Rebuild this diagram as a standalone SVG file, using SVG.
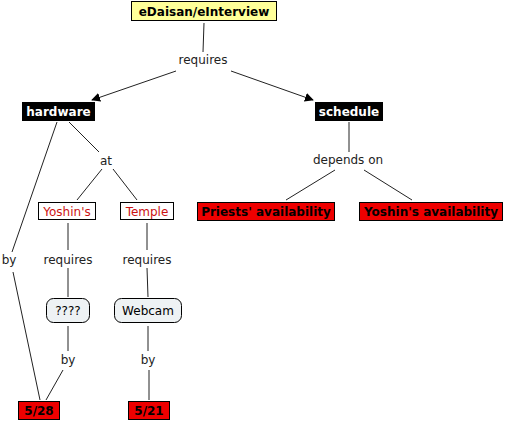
<svg xmlns="http://www.w3.org/2000/svg" width="505" height="422" viewBox="0 0 505 422">
<defs>
<style>
text{font-family:"DejaVu Sans","Verdana",sans-serif;font-size:12px;text-anchor:middle}
.b{font-weight:bold}
.lbl{fill:#222}
.w{fill:#fff}
.r{fill:#cc1111}
.con line{stroke:#222;stroke-width:1}
</style>
<marker id="ah" viewBox="0 0 10 10" refX="9" refY="5" markerWidth="9" markerHeight="9" markerUnits="userSpaceOnUse" orient="auto"><path d="M0,0L10,5L0,10z" fill="#000"/></marker>
</defs>
<rect width="505" height="422" fill="#fff"/>
<g class="con">
<line x1="204" y1="23" x2="203" y2="52"/>
<line x1="176" y1="71" x2="92" y2="100" marker-end="url(#ah)"/>
<line x1="231" y1="71" x2="313" y2="100" marker-end="url(#ah)"/>
<line x1="57" y1="122" x2="12" y2="252"/>
<line x1="13" y1="272" x2="40" y2="400"/>
<line x1="69" y1="122" x2="99" y2="152"/>
<line x1="102" y1="169" x2="77" y2="200"/>
<line x1="113" y1="169" x2="137" y2="200"/>
<line x1="68" y1="223" x2="68" y2="250"/>
<line x1="147" y1="223" x2="147" y2="250"/>
<line x1="68" y1="268" x2="68" y2="297"/>
<line x1="147" y1="268" x2="148" y2="297"/>
<line x1="68" y1="326" x2="68" y2="351"/>
<line x1="148" y1="326" x2="148" y2="351"/>
<line x1="63" y1="370" x2="46" y2="400"/>
<line x1="149" y1="370" x2="149" y2="400"/>
<line x1="349" y1="122" x2="349" y2="152"/>
<line x1="335" y1="170" x2="286" y2="200"/>
<line x1="364" y1="170" x2="412" y2="200"/>
</g>
<g id="eDaisan"><rect x="131.5" y="1.5" width="145" height="19" fill="#ffff99" stroke="#000"/><text class="b" x="204" y="15.5">eDaisan/eInterview</text></g>
<g id="requires1"><text class="lbl" x="203" y="64">requires</text></g>
<g id="hardware"><rect x="22" y="102" width="73" height="19" fill="#000"/><text class="b w" x="58.5" y="116">hardware</text></g>
<g id="schedule"><rect x="315" y="102" width="68" height="19" fill="#000"/><text class="b w" x="349" y="116">schedule</text></g>
<g id="at"><text class="lbl" x="106" y="165">at</text></g>
<g id="dependson"><text class="lbl" x="348" y="164">depends on</text></g>
<g id="yoshins"><rect x="38.5" y="202.5" width="57" height="17" fill="#fff" stroke="#000"/><text class="r" x="67" y="215.5">Yoshin's</text></g>
<g id="temple"><rect x="120.5" y="202.5" width="53" height="17" fill="#fff" stroke="#000"/><text class="r" x="147" y="215.5">Temple</text></g>
<g id="priests"><rect x="197.5" y="202.5" width="137" height="18" fill="#ee0000" stroke="#000"/><text class="b" x="266" y="216">Priests' availability</text></g>
<g id="yoshinsavail"><rect x="359.5" y="202.5" width="143" height="18" fill="#ee0000" stroke="#000"/><text class="b" x="431" y="216">Yoshin's availability</text></g>
<g id="by1"><text class="lbl" x="9" y="264">by</text></g>
<g id="requires2"><text class="lbl" x="68" y="264">requires</text></g>
<g id="requires3"><text class="lbl" x="147" y="264">requires</text></g>
<g id="q"><rect x="46.5" y="298.5" width="43" height="24" rx="7" fill="#eef2f4" stroke="#000"/><text x="68" y="315">????</text></g>
<g id="webcam"><rect x="114.5" y="298.5" width="67" height="24" rx="7" fill="#eef2f4" stroke="#000"/><text x="148" y="315">Webcam</text></g>
<g id="by2"><text class="lbl" x="68" y="364">by</text></g>
<g id="by3"><text class="lbl" x="148" y="364">by</text></g>
<g id="d528"><rect x="18.5" y="401.5" width="41" height="18" fill="#ee0000" stroke="#000"/><text class="b" x="39" y="415">5/28</text></g>
<g id="d521"><rect x="128.5" y="401.5" width="41" height="18" fill="#ee0000" stroke="#000"/><text class="b" x="149" y="415">5/21</text></g>
</svg>
